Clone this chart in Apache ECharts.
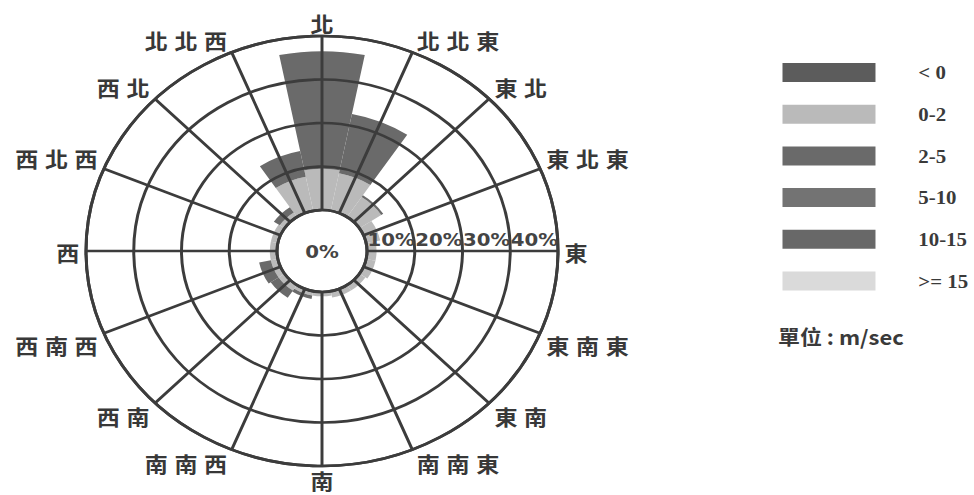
<!DOCTYPE html>
<html>
<head>
<meta charset="utf-8">
<script src="https://cdn.jsdelivr.net/npm/echarts@6/dist/echarts.min.js"></script>
<style>
  html, body { margin: 0; padding: 0; background: #ffffff; overflow: hidden; }
  #wrap { width: 974px; height: 495px; overflow: hidden; position: relative; }
  #chart { position: absolute; left: 0; top: 0; transform-origin: 0 0; }
</style>
</head>
<body>
<div id="wrap"><div id="chart"></div></div>
<script>
// ---- data ----
const directions = ['北', '北北東', '東北', '東北東', '東', '東南東', '東南', '南南東',
                    '南', '南南西', '西南', '西南西', '西', '西北西', '西北', '北北西'];
const seriesNames = ['< 0', '0-2', '2-5', '5-10', '10-15', '>= 15'];
const speedLt0   = [0, 0, 0, 0, 0, 0, 0, 0, 0, 0, 0, 0, 0, 0, 0, 0];
const speed0to2  = [9.5, 8.8, 5.5, 3.0, 2.0, 2.0, 1.5, 1.5, 1.0, 1.0, 1.5, 1.5, 1.5, 1.5, 1.2, 8.0];
const speed2to5  = [27.0, 13.9, 0.5, 0, 0, 0, 0, 0, 0, 0.8, 2.0, 2.5, 0, 0, 1.5, 6.0];
const speed5to10 = [0, 0, 0, 0, 0, 0, 0, 0, 0, 0, 0, 0, 0, 0, 0, 0];
const speed10to15= [0, 0, 0, 0, 0, 0, 0, 0, 0, 0, 0, 0, 0, 0, 0, 0];
const speedGe15  = [0, 0, 0, 0, 0, 0, 0, 0, 0, 0, 0, 0, 0, 0, 0, 0];
const radialTicks = [0, 10, 20, 30, 40];
const unitText = '單位 : m/sec';

// ---- layout ----
const SX = 236 / 215;              // horizontal stretch of the original picture
const W = 974 / SX, H = 495;
const CX = 322 / SX, CY = 251;
const R0 = 41, R1 = 215;
const chartDom = document.getElementById('chart');
chartDom.style.width = W + 'px';
chartDom.style.height = H + 'px';
chartDom.style.transform = 'scaleX(' + SX + ')';

const colors = ['#5c5c5c', '#bababa', '#6a6a6a', '#737373', '#686868', '#dadada'];
const dataSets = [speedLt0, speed0to2, speed2to5, speed5to10, speed10to15, speedGe15];
const gridLine = { color: '#3c3c3c', width: 2.7 };

const chart = echarts.init(chartDom, null, { renderer: 'svg' });
chart.setOption({
  animation: false,
  backgroundColor: '#ffffff',
  polar: [
    { center: [CX, CY], radius: [R0, R1] },
    { center: [CX, CY], radius: [R0, R1] }
  ],
  angleAxis: [
    {
      polarIndex: 0,
      type: 'category',
      data: directions,
      boundaryGap: false,
      startAngle: 90,
      clockwise: true,
      z: 5,
      axisLine: { show: true, lineStyle: gridLine },
      axisTick: { show: false },
      splitLine: { show: true, interval: 0, lineStyle: gridLine },
      axisLabel: {
        interval: 0,
        margin: 3,
        formatter: function (v) {
          return v.split('').map(function (c) { return '{c|' + c + '}'; }).join('');
        },
        rich: {
          c: {
            fontSize: 21,
            fontWeight: 'bold',
            color: '#383838',
            fontFamily: 'Noto Sans CJK TC',
            padding: [0, 3, 0, 3]
          }
        }
      }
    },
    {
      polarIndex: 1,
      type: 'value',
      startAngle: 0,
      min: 0, max: 360,
      show: false
    }
  ],
  radiusAxis: [
    {
      polarIndex: 0,
      type: 'value',
      min: radialTicks[0],
      max: radialTicks[radialTicks.length - 1],
      interval: 10,
      z: 5,
      axisLine: { show: false },
      axisTick: { show: false },
      axisLabel: { show: false },
      splitLine: { show: false }
    },
    {
      polarIndex: 1,
      type: 'value',
      min: radialTicks[0],
      max: radialTicks[radialTicks.length - 1],
      interval: 10,
      z: 6,
      axisLine: { show: false },
      axisTick: { show: false },
      splitLine: { show: true, lineStyle: gridLine },
      axisLabel: {
        show: true,
        align: 'right',
        margin: 3,
        fontSize: 18,
        fontWeight: 'bold',
        color: '#444444',
        fontFamily: 'DejaVu Sans',
        formatter: function (v) { return v === 0 ? '' : v + '%'; }
      }
    }
  ],
  legend: {
    orient: 'vertical',
    left: 777 / SX,
    top: 58,
    itemWidth: 93 / SX,
    itemHeight: 19,
    itemGap: 22.7,
    icon: 'rect',
    selectedMode: false,
    data: seriesNames,
    textStyle: {
      fontSize: 19,
      fontWeight: 'bold',
      color: '#3a3a3a',
      fontFamily: 'Liberation Serif',
      padding: [0, 0, 0, 34]
    }
  },
  graphic: [
    {
      type: 'text',
      x: CX, y: CY,
      z: 10,
      style: {
        text: radialTicks[0] + '%',
        x: 0, y: 0,
        align: 'center', verticalAlign: 'middle',
        font: 'bold 18px "DejaVu Sans"',
        fill: '#444444'
      }
    },
    {
      type: 'text',
      x: 778 / SX, y: 336,
      style: {
        text: unitText,
        align: 'left', verticalAlign: 'middle',
        font: 'bold 20px "Noto Sans CJK TC"',
        fill: '#3a3a3a'
      }
    }
  ],
  series: seriesNames.map(function (name, i) {
    return {
      name: name,
      type: 'bar',
      coordinateSystem: 'polar',
      polarIndex: 0,
      stack: 'wind',
      barCategoryGap: '0%',
      z: 2,
      itemStyle: { color: colors[i] },
      data: dataSets[i]
    };
  })
});
</script>
</body>
</html>
